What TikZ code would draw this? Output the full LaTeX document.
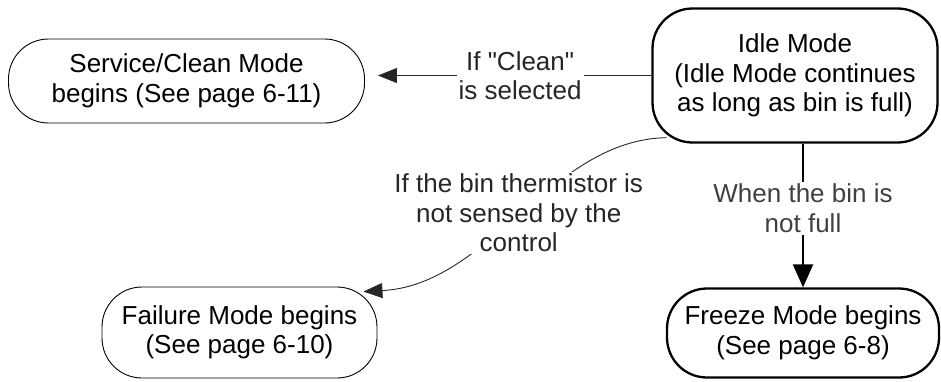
\documentclass[tikz,border=0pt]{standalone}
\usepackage{fontspec}
\setmainfont{Liberation Sans}
\usetikzlibrary{positioning, arrows.meta}
\newcommand{\straightdq}{\XeTeXglyph\XeTeXcharglyph"22\relax}

\begin{document}
\begin{tikzpicture}[x=1pt, y=-1pt, >={Triangle[length=19pt, width=15pt]}]
    \tikzstyle{mode} = [draw, rectangle, rounded corners=40pt, align=center, line width=0.9pt, inner sep=0pt, font=\fontsize{26}{29.5}\selectfont]
    \tikzstyle{boldmode} = [mode, line width=2.3pt]
    \tikzstyle{cond} = [fill=white, align=center, inner sep=2pt, font=\fontsize{26}{29.5}\selectfont]
    \tikzstyle{link} = [draw, black!85, line width=0.9pt]

    \useasboundingbox (0,0) rectangle (941,381);

    % Modes
    \node[boldmode, minimum width=285pt, minimum height=134pt] (idle) at (795, 75.5) {Idle Mode\\(Idle Mode continues\\as long as bin is full)};
    \node[mode, minimum width=356pt, minimum height=84pt] (clean) at (186.5, 81) {Service/Clean Mode\\begins (See page 6-11)};
    \node[mode, minimum width=275pt, minimum height=91pt] (fail) at (239.5, 332.5) {Failure Mode begins\\(See page 6-10)};
    \node[boldmode, minimum width=272pt, minimum height=89pt] (frz) at (803, 333) {Freeze Mode begins\\(See page 6-8)};

    % Clean selected
    \draw[link, ->] (idle.west) -- node[cond, pos=0.48] (lclean) {If \straightdq Clean\straightdq\\is selected} ([xshift=13pt]clean.east |- idle.west);

    % Bin not full
    \draw[-{Triangle[length=23pt, width=20pt]}, line width=2.3pt] (frz.north |- idle.south) -- node[cond, pos=0.45, text=black!75] (lfull) {When the bin is\\not full} (frz.north);

    % Thermistor not sensed
    \draw[link, ->] ([xshift=15pt, yshift=6pt]idle.south west) .. controls (550, 140) and (490, 285) .. node[cond] (ltherm) {If the bin thermistor is\\not sensed by the\\control} ([xshift=-14pt, yshift=-5pt]fail.north east);
\end{tikzpicture}
\end{document}
